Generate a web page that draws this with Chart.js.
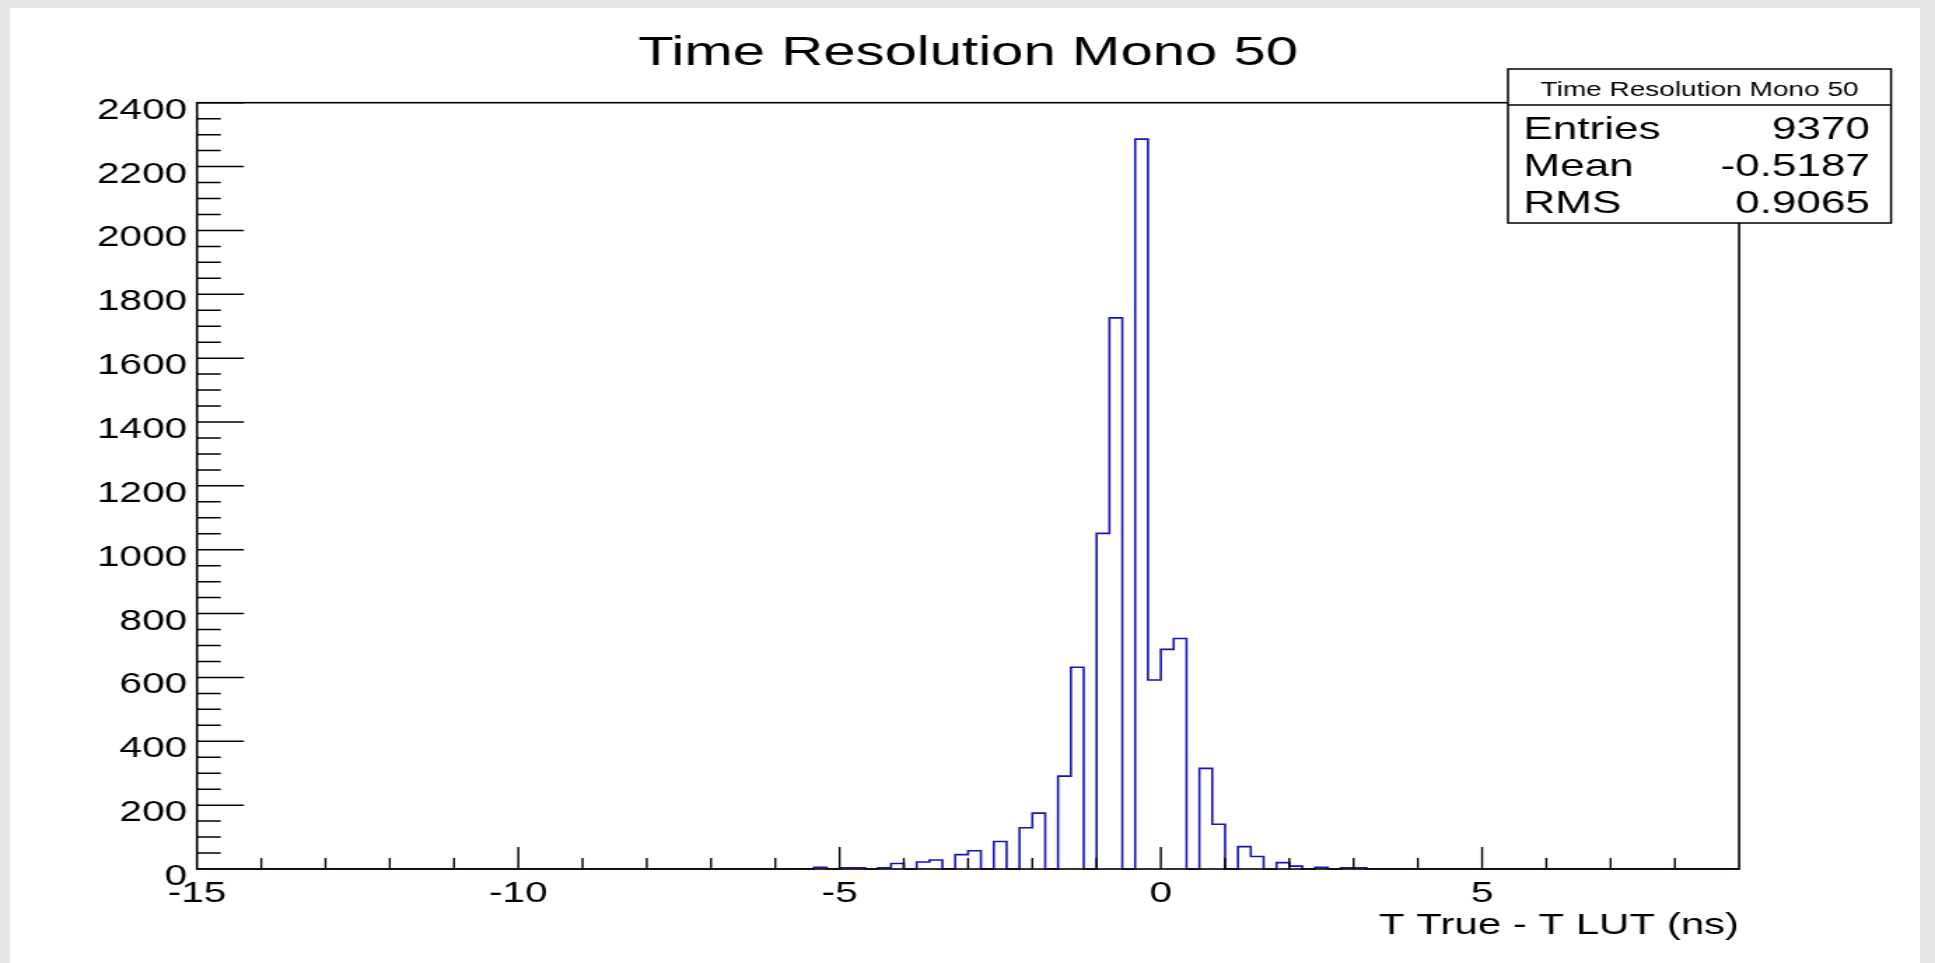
<!DOCTYPE html>
<html lang="en">
<head>
<meta charset="UTF-8">
<title>Time Resolution Mono 50</title>
<script src="https://cdn.jsdelivr.net/npm/chart.js"></script>
<style>
    body {
        margin: 0;
        width: 1935px;
        height: 963px;
        overflow: hidden;
        position: relative;
        background: #e6e6e6;
    }

    #panel {
        position: absolute;
        left: 10px;
        top: 8px;
        width: 1910px;
        height: 955px;
        background: #ffffff;
    }

    /* the original plot was stretched sideways, so the canvas is too */
    #histo {
        position: absolute;
        left: 0;
        top: 0;
    }
</style>
</head>
<body>
<div id="panel"></div>
<canvas id="histo" width="1382" height="963" style="width:1935px;height:963px;"></canvas>

<script>
    // histogram: 0.2 ns bins, only the filled part is listed (rest is empty)
    const binLeft = [
        -5.4, -5.2, -5.0, -4.8, -4.6, -4.4, -4.2, -4.0, -3.8, -3.6,
        -3.4, -3.2, -3.0, -2.8, -2.6, -2.4, -2.2, -2.0, -1.8, -1.6,
        -1.4, -1.2, -1.0, -0.8, -0.6, -0.4, -0.2, 0.0, 0.2, 0.4,
        0.6, 0.8, 1.0, 1.2, 1.4, 1.6, 1.8, 2.0, 2.2, 2.4,
        2.6, 2.8, 3.0
    ];
    const counts = [
        5, 0, 4, 4, 0, 4, 17, 0, 22, 28,
        0, 45, 57, 0, 86, 0, 129, 175, 0, 291,
        632, 0, 1051, 1726, 0, 2286, 592, 688, 722, 0,
        315, 140, 0, 70, 39, 0, 20, 9, 0, 5,
        0, 4, 4
    ];
    const binWidth = 0.2;
    const xMin = -15;
    const xMax = 9;
    const yMax = 2400;

    const statsTitle = 'Time Resolution Mono 50';
    const statsNames = ['Entries', 'Mean', 'RMS'];
    const statsValues = ['9370', '-0.5187', '0.9065'];

    const FONT = '"Liberation Sans", Arial, Helvetica, sans-serif';
    Chart.defaults.font.family = FONT;
    Chart.defaults.color = '#000';

    // outline points for a stepped line (value holds until the next edge)
    const points = [{x: xMin, y: 0}];
    binLeft.forEach((x, i) => points.push({x: x, y: counts[i]}));
    points.push({x: binLeft[binLeft.length - 1] + binWidth, y: 0});
    points.push({x: xMax, y: 0});

    const frameTicks = {
        id: 'frameTicks',
        afterDatasetsDraw(chart) {
            const {ctx, chartArea: a, scales: {x, y}} = chart;
            ctx.save();
            ctx.strokeStyle = '#000';

            ctx.lineWidth = 1.4;
            ctx.beginPath();
            for (let v = xMin + 1; v < xMax; v++) {
                const px = x.getPixelForValue(v);
                const len = v % 5 === 0 ? 22 : 11;
                ctx.moveTo(px, a.bottom);
                ctx.lineTo(px, a.bottom - len);
            }
            ctx.stroke();

            ctx.lineWidth = 1.5;
            ctx.beginPath();
            for (let v = 50; v <= yMax; v += 50) {
                const py = y.getPixelForValue(v);
                const len = v % 200 === 0 ? 33.5 : 17;
                ctx.moveTo(a.left, py);
                ctx.lineTo(a.left + len, py);
            }
            ctx.stroke();

            ctx.lineWidth = 1.6;
            ctx.strokeRect(a.left, a.top, a.right - a.left, a.bottom - a.top);
            ctx.restore();
        },
        afterDraw(chart) {
            // stats box, top right, over the frame
            const ctx = chart.ctx;
            const bx = 1077, by = 69, bw = 273.6, bh = 154;
            ctx.save();
            ctx.fillStyle = '#fff';
            ctx.fillRect(bx, by, bw, bh);
            ctx.strokeStyle = '#000';
            ctx.lineWidth = 1.5;
            ctx.strokeRect(bx, by, bw, bh);
            ctx.beginPath();
            ctx.moveTo(bx, 105);
            ctx.lineTo(bx + bw, 105);
            ctx.stroke();

            ctx.fillStyle = '#000';
            ctx.textBaseline = 'alphabetic';
            ctx.font = '20px ' + FONT;
            ctx.textAlign = 'center';
            ctx.fillText(statsTitle, bx + bw / 2, 96);

            ctx.font = '31.5px ' + FONT;
            const rows = [138.5, 175.5, 212.5];
            statsNames.forEach((name, i) => {
                ctx.textAlign = 'left';
                ctx.fillText(name, bx + 11, rows[i]);
                ctx.textAlign = 'right';
                ctx.fillText(statsValues[i], bx + bw - 15, rows[i]);
            });
            ctx.restore();
        }
    };

    const ctx = document.getElementById('histo').getContext('2d');

    const histo = new Chart(ctx, {
        type: 'line',
        data: {
            datasets: [{
                label: statsTitle,
                data: points,
                stepped: true,
                borderColor: '#1414b8',
                borderWidth: 1.6,
                pointRadius: 0,
                fill: false,
                tension: 0,
                clip: false
            }]
        },
        options: {
            responsive: false,
            animation: false,
            layout: {
                padding: {top: 0, left: 0, right: 139.9, bottom: 0}
            },
            scales: {
                x: {
                    type: 'linear',
                    min: xMin,
                    max: xMax,
                    afterFit: (scale) => { scale.height = 94; },
                    grid: {display: false, drawTicks: false},
                    border: {display: false},
                    ticks: {
                        stepSize: 5,
                        includeBounds: false,
                        autoSkip: false,
                        maxRotation: 0,
                        padding: 8,
                        font: {size: 29},
                        callback: (v) => String(v)
                    },
                    title: {
                        display: true,
                        text: 'T True - T LUT (ns)',
                        align: 'end',
                        font: {size: 30},
                        padding: {top: 0, bottom: 19}
                    }
                },
                y: {
                    min: 0,
                    max: yMax,
                    afterFit: (scale) => { scale.width = 140.7; },
                    grid: {display: false, drawTicks: false},
                    border: {display: false},
                    ticks: {
                        stepSize: 200,
                        padding: 7,
                        labelOffset: 8,
                        font: {size: 29},
                        callback: (v) => String(v)
                    }
                }
            },
            plugins: {
                legend: {display: false},
                tooltip: {enabled: false},
                title: {
                    display: true,
                    text: 'Time Resolution Mono 50',
                    fullSize: false,
                    font: {size: 41.5, weight: 'normal'},
                    color: '#000',
                    padding: {top: 29, bottom: 23.9}
                }
            }
        },
        plugins: [frameTicks]
    });
</script>
</body>
</html>
